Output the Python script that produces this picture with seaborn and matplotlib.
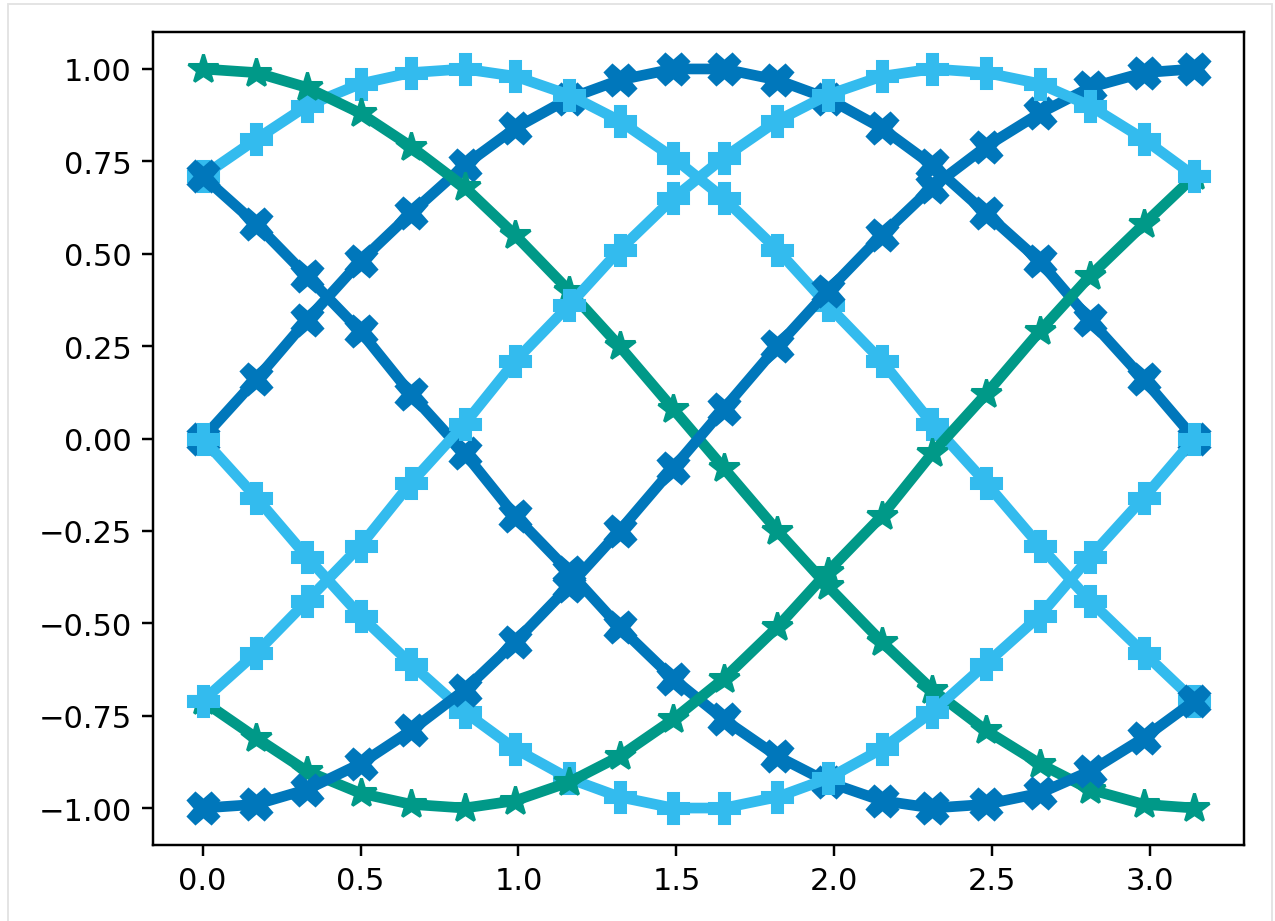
import matplotlib
matplotlib.use("Agg")
import matplotlib.pyplot as plt
from matplotlib.patches import Rectangle
import seaborn as sns

# Sample positions along [0, pi]
x_vals = [0.00, 0.17, 0.33, 0.50, 0.66, 0.83, 0.99, 1.16, 1.32, 1.49,
          1.65, 1.82, 1.98, 2.15, 2.31, 2.48, 2.65, 2.81, 2.98, 3.14]

# Phase-shifted waves, one list per curve (shift = k * pi/4)
wave_0 = [0.00, 0.16, 0.32, 0.48, 0.61, 0.74, 0.84, 0.92, 0.97, 1.00,
          1.00, 0.97, 0.92, 0.84, 0.74, 0.61, 0.48, 0.32, 0.16, 0.00]
wave_1 = [0.71, 0.81, 0.90, 0.96, 0.99, 1.00, 0.98, 0.93, 0.86, 0.76,
          0.65, 0.51, 0.36, 0.21, 0.04, -0.12, -0.29, -0.44, -0.58, -0.71]
wave_2 = [1.00, 0.99, 0.95, 0.88, 0.79, 0.68, 0.55, 0.40, 0.25, 0.08,
          -0.08, -0.25, -0.40, -0.55, -0.68, -0.79, -0.88, -0.95, -0.99, -1.00]
wave_3 = [0.71, 0.58, 0.44, 0.29, 0.12, -0.04, -0.21, -0.36, -0.51, -0.65,
          -0.76, -0.86, -0.93, -0.98, -1.00, -0.99, -0.96, -0.90, -0.81, -0.71]
wave_4 = [0.00, -0.16, -0.32, -0.48, -0.61, -0.74, -0.84, -0.92, -0.97, -1.00,
          -1.00, -0.97, -0.92, -0.84, -0.74, -0.61, -0.48, -0.32, -0.16, 0.00]
wave_5 = [-0.71, -0.81, -0.90, -0.96, -0.99, -1.00, -0.98, -0.93, -0.86, -0.76,
          -0.65, -0.51, -0.36, -0.21, -0.04, 0.12, 0.29, 0.44, 0.58, 0.71]
wave_6 = [-1.00, -0.99, -0.95, -0.88, -0.79, -0.68, -0.55, -0.40, -0.25, -0.08,
          0.08, 0.25, 0.40, 0.55, 0.68, 0.79, 0.88, 0.95, 0.99, 1.00]
wave_7 = [-0.71, -0.58, -0.44, -0.29, -0.12, 0.04, 0.21, 0.36, 0.51, 0.65,
          0.76, 0.86, 0.93, 0.98, 1.00, 0.99, 0.96, 0.90, 0.81, 0.71]

waves = [wave_0, wave_1, wave_2, wave_3, wave_4, wave_5, wave_6, wave_7]

# Repeating colour / marker cycle
cycle_colors = ["#0077BB", "#33BBEE", "#009988"]
cycle_markers = ["X", "P", "*"]

W, H, DPI = 1275, 922, 220
fig = plt.figure(figsize=(W / DPI, H / DPI), dpi=DPI)
ax = fig.add_axes([153 / W, 1 - 846 / H, (1244 - 153) / W, (846 - 33) / H])

for k, ys in enumerate(waves):
    c = cycle_colors[k % 3]
    m = cycle_markers[k % 3]
    sns.lineplot(x=x_vals, y=ys, ax=ax, color=c, marker=m,
                 markersize=10, markeredgecolor=c, markeredgewidth=1.0,
                 linewidth=3.5, estimator=None, sort=False)

ax.set_xticks([0.0, 0.5, 1.0, 1.5, 2.0, 2.5, 3.0])
ax.set_yticks([-1.0, -0.75, -0.5, -0.25, 0.0, 0.25, 0.5, 0.75, 1.0])
ax.set_yticklabels(["\u22121.00", "\u22120.75", "\u22120.50", "\u22120.25",
                    "0.00", "0.25", "0.50", "0.75", "1.00"])

# light outer frame around the canvas
fig.patches.append(Rectangle((8 / W, -0.01), (1272 - 8) / W, 1 - 5 / H + 0.01,
                             transform=fig.transFigure, fill=False,
                             edgecolor="#e2e2e2", linewidth=0.6))

fig.savefig("out.png", dpi=DPI)
